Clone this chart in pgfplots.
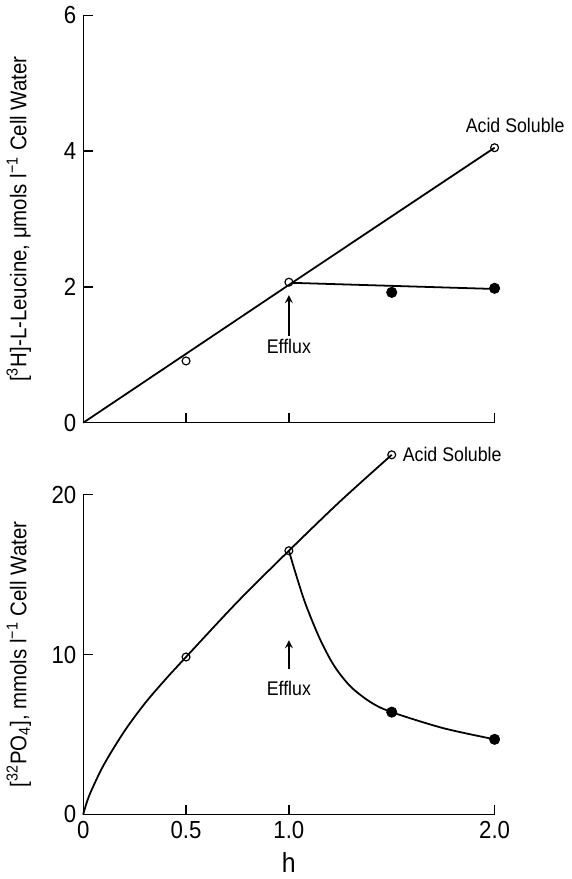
\documentclass[border=0pt]{standalone}
\usepackage{fontspec}
\setmainfont{Liberation Sans}[FakeStretch=0.9]
\usepackage{pgfplots}
\pgfplotsset{compat=1.18}
\begin{document}
\begin{tikzpicture}[font=\fontsize{11}{13}\selectfont]
\pgfplotsset{
  mystyle/.style={
    scale only axis, width=208.5pt,
    xmin=0, xmax=2, ymin=0,
    axis x line*=bottom, axis y line*=left,
    axis line style={-, line width=0.7pt},
    tick style={line width=0.7pt, black},
    major tick length=5pt,
    tick align=inside,
    /pgf/number format/assume math mode=true,
    ticklabel style={font=\fontsize{12.5}{14}\selectfont},
    clip=false,
    xtick={0,0.5,1,2},
    ylabel style={at={(axis description cs:-0.11,0.5)}, anchor=south, font=\fontsize{11.5}{13}\selectfont},
  }
}
\begin{axis}[mystyle, at={(0pt,198.5pt)}, anchor=south west, height=206.5pt, ymax=6, ytick={0,2,4,6},
  xticklabels={},
  ylabel={[\textsuperscript{3}H]-L-Leucine, μmols l\textsuperscript{−1} Cell Water}]
\addplot[line width=0.9pt] coordinates {(0,0) (1,2.03) (2,4.05)};
\addplot[line width=0.9pt] coordinates {(1.02,2.06) (2,1.97)};
\addplot[only marks, mark=*, mark size=2.6pt] coordinates {(1.5,1.92) (2,1.98)};
\addplot[only marks, mark=o, mark size=2pt, mark options={fill=white, line width=0.6pt}] coordinates {(0.5,0.91) (1,2.07) (2,4.05)};
\node[font=\fontsize{10}{12}\selectfont] at (axis cs:2.1,4.38) {Acid Soluble};
\draw[-stealth, line width=0.8pt] (axis cs:1,1.28) -- (axis cs:1,1.88);
\node[font=\fontsize{10}{12}\selectfont] at (axis cs:1,1.12) {Efflux};
\end{axis}
\begin{axis}[mystyle, at={(0pt,0pt)}, anchor=south west, height=162pt, ymax=20, ytick={0,10,20},
  xticklabels={0,0.5,1.0,2.0},
  xlabel={h}, xlabel style={font=\fontsize{14}{16}\selectfont},
  ylabel={[\textsuperscript{32}PO\textsubscript{4}], mmols l\textsuperscript{−1} Cell Water}]
\addplot[smooth, line width=0.9pt] coordinates {(0,0) (0.03,1.2) (0.1,3.1) (0.2,5.2) (0.3,6.95) (0.4,8.45) (0.5,9.85) (0.75,13.3) (1.0,16.5) (1.25,19.6) (1.5,22.5)};
\addplot[smooth, line width=0.9pt] coordinates {(1.0,16.5) (1.03,15.2) (1.08,13.2) (1.15,11.0) (1.22,9.3) (1.3,8.0) (1.4,7.0) (1.5,6.4) (1.75,5.4) (2.0,4.7)};
\addplot[only marks, mark=*, mark size=2.6pt] coordinates {(1.5,6.4) (2.0,4.7)};
\addplot[only marks, mark=o, mark size=2pt, mark options={fill=white, line width=0.6pt}] coordinates {(0.5,9.85) (1.0,16.5) (1.5,22.5)};
\node[anchor=west, font=\fontsize{10}{12}\selectfont] at (axis cs:1.52,22.5) {Acid Soluble};
\draw[-stealth, line width=0.8pt] (axis cs:1,9.1) -- (axis cs:1,10.9);
\node[font=\fontsize{10}{12}\selectfont] at (axis cs:1,7.9) {Efflux};
\end{axis}
\end{tikzpicture}
\end{document}
